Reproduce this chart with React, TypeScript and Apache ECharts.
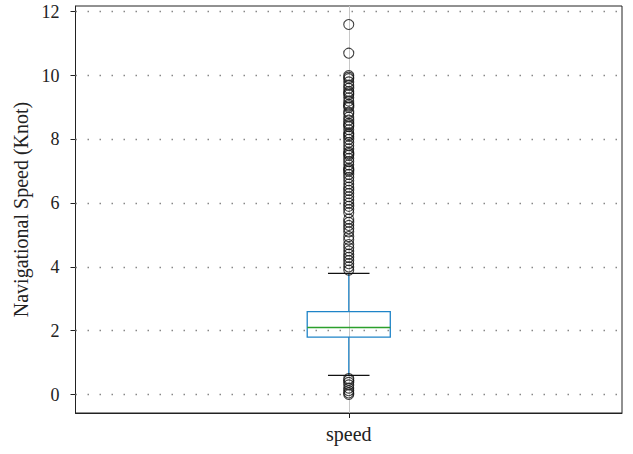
import React, { useEffect, useRef } from "react";
import * as echarts from "echarts";

// Box-plot summary of navigational speed (knots)
const categories = ["speed"];
const lowerWhisker = 0.6;
const q1 = 1.8;
const median = 2.1;
const q3 = 2.6;
const upperWhisker = 3.8;

// Points beyond the whiskers
const upperOutliers = [
  11.6, 10.7, 10.0, 9.95, 9.9, 9.8, 9.7, 9.6, 9.5, 9.45, 9.4, 9.3, 9.2, 9.1,
  9.05, 9.0, 8.85, 8.8, 8.7, 8.6, 8.5, 8.45, 8.4, 8.3, 8.2, 8.15, 8.1, 8.0,
  7.9, 7.8, 7.7, 7.6, 7.55, 7.5, 7.4, 7.3, 7.2, 7.1, 7.05, 7.0, 6.9, 6.8,
  6.7, 6.6, 6.5, 6.4, 6.3, 6.2, 6.1, 6.0, 5.9, 5.8, 5.7, 5.5, 5.4, 5.3, 5.2,
  5.1, 4.95, 4.85, 4.7, 4.6, 4.5, 4.4, 4.3, 4.2, 4.1, 4.0, 3.9,
];
const lowerOutliers = [0.5, 0.45, 0.38, 0.3, 0.2, 0.12, 0.05, 0.0];

const yTicks = [0, 2, 4, 6, 8, 10, 12];
const yMin = -0.58;
const yMax = 12.18;

const SERIF = "'Liberation Serif', 'DejaVu Serif', serif";
const BOX_BLUE = "#1f84c8";

export default function App() {
  const ref = useRef<HTMLDivElement>(null);

  useEffect(() => {
    if (!ref.current) return;
    document.body.style.margin = "0";
    const chart = echarts.init(ref.current, null, { renderer: "svg" });

    const outliers = [...upperOutliers, ...lowerOutliers].map((v) => [0, v]);

    chart.setOption({
      animation: false,
      backgroundColor: "#fff",
      grid: {
        left: 75.5,
        right: 11,
        top: 6,
        bottom: 41,
        show: true,
        borderColor: "#222",
        borderWidth: 1,
        backgroundColor: "transparent",
      },
      xAxis: {
        type: "category",
        data: categories,
        axisLine: { show: true, onZero: false, lineStyle: { color: "#222", width: 1 } },
        axisTick: { show: true, alignWithLabel: true, length: 5, lineStyle: { color: "#222" } },
        axisLabel: { fontFamily: SERIF, fontSize: 20, color: "#222", margin: 11 },
        splitLine: { show: false },
      },
      yAxis: {
        type: "value",
        min: yMin,
        max: yMax,
        name: "Navigational Speed (Knot)",
        nameLocation: "middle",
        nameGap: 41,
        nameTextStyle: { fontFamily: SERIF, fontSize: 20, color: "#222" },
        axisLine: { show: true, lineStyle: { color: "#222", width: 1 } },
        axisTick: {
          show: true,
          length: 5,
          customValues: yTicks,
          lineStyle: { color: "#222" },
        },
        axisLabel: {
          customValues: yTicks,
          fontFamily: SERIF,
          fontSize: 18,
          color: "#222",
          margin: 16,
        },
        splitLine: { show: false },
      },
      series: [
        {
          type: "custom",
          z: 3,
          data: [[0, lowerWhisker, q1, median, q3, upperWhisker]],
          encode: { x: 0, y: [1, 2, 3, 4, 5] },
          renderItem: (params: any, api: any) => {
            const x = api.value(0);
            const pLow = api.coord([x, api.value(1)]);
            const pQ1 = api.coord([x, api.value(2)]);
            const pMed = api.coord([x, api.value(3)]);
            const pQ3 = api.coord([x, api.value(4)]);
            const pHigh = api.coord([x, api.value(5)]);
            const band = api.size([1, 0])[0];
            const bw = band * 0.152;
            const cw = bw / 2;
            const cx = pMed[0];
            return {
              type: "group",
              children: [
                {
                  type: "line",
                  shape: { x1: cx, y1: pLow[1], x2: cx, y2: pQ1[1] },
                  style: { stroke: BOX_BLUE, lineWidth: 1.2 },
                },
                {
                  type: "line",
                  shape: { x1: cx, y1: pQ3[1], x2: cx, y2: pHigh[1] },
                  style: { stroke: BOX_BLUE, lineWidth: 1.2 },
                },
                {
                  type: "rect",
                  shape: { x: cx - bw / 2, y: pQ3[1], width: bw, height: pQ1[1] - pQ3[1] },
                  style: { fill: "none", stroke: BOX_BLUE, lineWidth: 1.3 },
                },
                {
                  type: "line",
                  shape: { x1: cx - bw / 2, y1: pMed[1], x2: cx + bw / 2, y2: pMed[1] },
                  style: { stroke: "#2ca02c", lineWidth: 1.3 },
                },
                {
                  type: "line",
                  shape: { x1: cx - cw / 2, y1: pLow[1], x2: cx + cw / 2, y2: pLow[1] },
                  style: { stroke: "#111", lineWidth: 1.2 },
                },
                {
                  type: "line",
                  shape: { x1: cx - cw / 2, y1: pHigh[1], x2: cx + cw / 2, y2: pHigh[1] },
                  style: { stroke: "#111", lineWidth: 1.2 },
                },
              ],
            };
          },
          markLine: {
            silent: true,
            z: 1,
            symbol: ["none", "none"],
            label: { show: false },
            data: [
              ...yTicks.map((v) => ({
                yAxis: v,
                lineStyle: { color: "#888", width: 1.3, type: [1.5, 10.5] },
              })),
              {
                xAxis: 0,
                lineStyle: { color: "#c8c8c8", width: 1, type: "solid" },
              },
            ],
          },
        },
        {
          type: "scatter",
          z: 4,
          data: outliers,
          symbol: "circle",
          symbolSize: 10,
          itemStyle: { color: "rgba(0,0,0,0)", borderColor: "#111", borderWidth: 1.1 },
        },
      ],
    });

    return () => chart.dispose();
  }, []);

  return (
    <div
      ref={ref}
      style={{ position: "absolute", left: 0, top: 0, width: 633, height: 454 }}
    />
  );
}
